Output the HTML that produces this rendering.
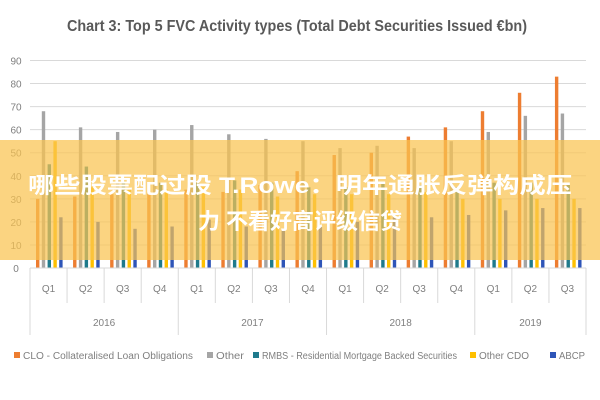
<!DOCTYPE html>
<html><head><meta charset="utf-8"><style>
html,body{margin:0;padding:0;background:#fff;}
svg{display:block;font-family:"Liberation Sans","Noto Sans CJK SC",sans-serif;}
</style></head><body>
<svg id="chart" width="600" height="400" viewBox="0 0 600 400">
<text x="297" y="31" text-anchor="middle" font-size="16" font-weight="bold" fill="#595959" textLength="460" lengthAdjust="spacingAndGlyphs">Chart 3: Top 5 FVC Activity types (Total Debt Securities Issued €bn)</text>
<g id="grid"></g><g id="bars"></g><g id="xaxis"></g>
<g id="legend"></g>
<rect x="0" y="140" width="600" height="120" fill="rgb(250,196,80)" fill-opacity="0.72"/>
<text x="300" y="193" text-anchor="middle" font-size="22" font-weight="bold" fill="#fff" textLength="544" lengthAdjust="spacingAndGlyphs">哪些股票配过股 T.Rowe：明年通胀反弹构成压</text>
<text x="300" y="229" text-anchor="middle" font-size="22" font-weight="bold" fill="#fff">力 不看好高评级信贷</text>
</svg>
<script>
const quarters=["Q1","Q2","Q3","Q4","Q1","Q2","Q3","Q4","Q1","Q2","Q3","Q4","Q1","Q2","Q3"];
const years=["2016","2017","2018","2019"];
const yTicks=[0,10,20,30,40,50,60,70,80,90];
const seriesNames=["CLO - Collateralised Loan Obligations","Other","RMBS - Residential Mortgage Backed Securities","Other CDO","ABCP"];
const clo=[30,31,32,33,34,33,36,42,49,50,57,61,68,76,83];
const other=[68,61,59,60,62,58,56,55,52,53,52,55,59,66,67];
const rmbs=[45,44,37,37,37,38,37,35,35,37,36,35,37,37,36];
const otherCdo=[55,35,35,34,35,34,31,32,32,32,33,30,30,30,30];
const abcp=[22,20,17,18,21,18,17,18,20,22,22,23,25,26,26];
const colors=["#ED7D31","#A5A5A5","#1F7A8C","#FFC000","#2E55B8"];
const NS="http://www.w3.org/2000/svg";
const x0=30,x1=586,yBase=268,yTop=60.5;
const gw=(x1-x0)/quarters.length;
function y(v){return yBase-(v/90)*(yBase-yTop);}
function mk(t,a,p){const e=document.createElementNS(NS,t);for(const k in a)e.setAttribute(k,a[k]);p.appendChild(e);return e;}
const grid=document.getElementById('grid');
yTicks.forEach(v=>{
 if(v>0){const l=mk('line',{x1:x0,x2:x1,y1:y(v),y2:y(v),stroke:'#d9d9d9','stroke-width':1},grid);
 
 }
 const t=mk('text',{x:16,y:y(v)+4,'text-anchor':'middle','font-size':10,fill:'#7f7f7f'},grid);
 t.textContent=v;
 
 
});
const bars=document.getElementById('bars');
const all=[clo,other,rmbs,otherCdo,abcp];
all.forEach((s,si)=>{s.forEach((v,i)=>{
 const bx=x0+i*gw+6+si*5.8;
 const r=mk('rect',{x:bx,y:y(v),width:3.4,height:yBase-y(v),fill:colors[si]},bars);
 
 
});});
const xa=document.getElementById('xaxis');
mk('line',{x1:x0,x2:x1,y1:yBase,y2:yBase,stroke:'#d9d9d9'},xa);
for(let i=0;i<=quarters.length;i++){
 const yr=(i%4===0)||i===quarters.length;
 mk('line',{x1:x0+i*gw,x2:x0+i*gw,y1:yBase,y2:yr?335:303,stroke:'#d9d9d9'},xa);
}
quarters.forEach((q,i)=>{
 const t=mk('text',{x:x0+i*gw+gw/2,y:292,'text-anchor':'middle','font-size':10,fill:'#7f7f7f'},xa);
 t.textContent=q;
 
 
});
years.forEach((yr,j)=>{
 const n=Math.min(4,quarters.length-j*4);
 const t=mk('text',{x:x0+(j*4+n/2)*gw,y:326,'text-anchor':'middle','font-size':10,fill:'#7f7f7f'},xa);
 t.textContent=yr;
 
 
});
const lg=document.getElementById('legend');
const lx=[14,207,253,470,550],lw=[170,28,195,50,26];
seriesNames.forEach((n,i)=>{
 mk('rect',{x:lx[i],y:352,width:6,height:6,fill:colors[i]},lg);
 const t=mk('text',{x:lx[i]+9,y:359,'font-size':10,fill:'#7f7f7f',textLength:lw[i],lengthAdjust:'spacingAndGlyphs'},lg);
 t.textContent=n==="ABCP"?"ABCP":n;
 
 
});
</script>
</body></html>
